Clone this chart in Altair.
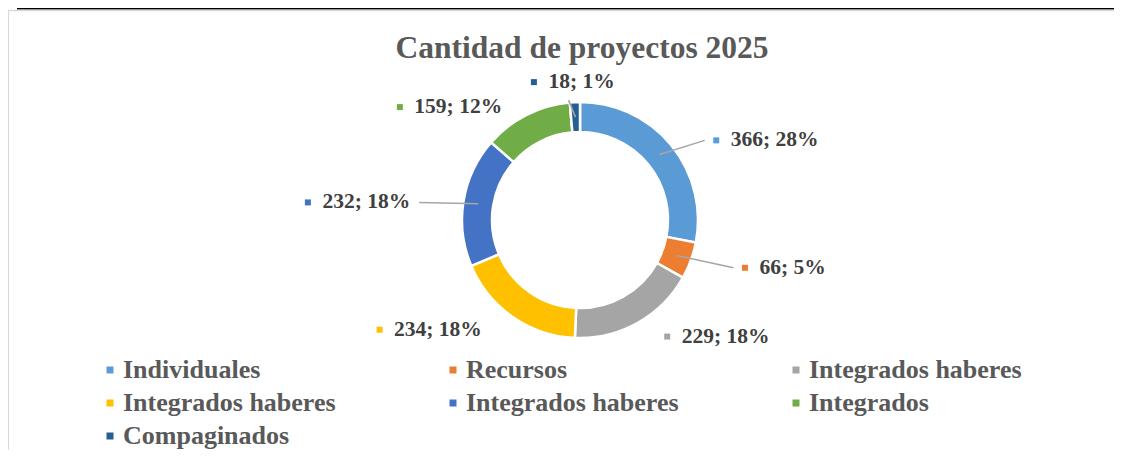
import json
import altair as alt
import pandas as pd

# ---- data ----
CATEGORIES = ["Individuales", "Recursos", "Integrados haberes", "Integrados haberes",
              "Integrados haberes", "Integrados", "Compaginados"]
VALUES = [366, 66, 229, 234, 232, 159, 18]
COLORS = ["#5B9BD5", "#ED7D31", "#A5A5A5", "#FFC000", "#4472C4", "#70AD47", "#255E91"]
TITLE = "Cantidad de proyectos 2025"

# ---- layout / style ----
W, H = 1106, 442
CX, CY = 572, 212
R_OUT, R_IN, R_LEAD = 118, 88, 103
EX, EY = 172, 130          # ellipse on which data labels are anchored
FONT = "Liberation Serif"
LFS = 21.5                 # data label font size
LEADER_IDX = [0, 1, 4, 6]  # labels that Excel connects with a leader line

df = pd.DataFrame({
    "idx": list(range(len(VALUES))),
    "key": [str(i) for i in range(len(VALUES))],
    "name": CATEGORIES,
    "value": VALUES,
})

color_scale = alt.Scale(domain=list(df["key"]), range=COLORS)
label_expr = json.dumps(CATEGORIES) + "[toNumber(datum.value)]"

base = alt.Chart(df)

arcs = base.mark_arc(innerRadius=R_IN, outerRadius=R_OUT, stroke="white", strokeWidth=2.5).encode(
    theta=alt.Theta("value:Q", stack=True),
    order=alt.Order("idx:Q"),
    color=alt.Color("key:N", scale=color_scale, legend=alt.Legend(
        title=None, orient="none", legendX=89, legendY=349, columns=3, direction="horizontal",
        columnPadding=104, rowPadding=7, padding=0,
        symbolType="square", symbolSize=49, symbolStrokeWidth=0, symbolOpacity=1,
        labelFont=FONT, labelFontSize=26, labelFontWeight="bold", labelColor="#595959",
        labelOffset=0, labelLimit=500, labelExpr=label_expr)),
    x=alt.value(CX), y=alt.value(CY),
)

calc = base.transform_joinaggregate(total="sum(value)").transform_window(
    cum="sum(value)", sort=[alt.SortField("idx")], frame=[None, 0]
).transform_calculate(
    mid="(datum.cum - datum.value / 2) / datum.total * 2 * PI",
).transform_calculate(
    pct="round(datum.value / datum.total * 100)",
    side="abs(sin(datum.mid)) < 0.15 ? 0 : (sin(datum.mid) > 0 ? 1 : -1)",
    ax=f"{CX} + {EX} * sin(datum.mid)",
    ay=f"{CY} - {EY} * cos(datum.mid)",
    lx1=f"{CX} + {R_LEAD} * sin(datum.mid)",
    ly1=f"{CY} - {R_LEAD} * cos(datum.mid)",
).transform_calculate(
    label="datum.value + '; ' + datum.pct + '%'",
    ty="datum.side == 0 ? datum.ay - 8 : datum.ay + 3",
).transform_calculate(
    tw=f"((length(datum.label) - 3) * 0.5 + 1.583) * {LFS}",
).transform_calculate(
    tx="datum.side == 1 ? datum.ax + 18 : (datum.side == -1 ? datum.ax - datum.tw : datum.ax - (datum.tw + 18) / 2 + 18)",
    lx2="datum.side == 1 ? datum.ax - 8 : (datum.side == -1 ? datum.ax + 9 : datum.ax - 4)",
    ly2="datum.side == 0 ? datum.ty + 18 : datum.ty",
).transform_calculate(
    sx="datum.tx - 14.5",
)

leaders = calc.transform_filter(
    f"indexof({json.dumps(LEADER_IDX)}, datum.idx) >= 0"
).mark_rule(color="#A6A6A6", strokeWidth=1.5).encode(
    x=alt.X("lx1:Q", scale=None, axis=None),
    y=alt.Y("ly1:Q", scale=None, axis=None),
    x2="lx2:Q", y2="ly2:Q",
)

squares = calc.mark_square(size=36, opacity=1).encode(
    x=alt.X("sx:Q", scale=None, axis=None),
    y=alt.Y("ty:Q", scale=None, axis=None),
    color=alt.Color("key:N", scale=color_scale, legend=None),
)

labels = calc.mark_text(align="left", baseline="middle", font=FONT, fontSize=LFS,
                        fontWeight="bold", color="#404040").encode(
    x=alt.X("tx:Q", scale=None, axis=None),
    y=alt.Y("ty:Q", scale=None, axis=None),
    text="label:N",
)

one = pd.DataFrame({"t": [TITLE]})
title = alt.Chart(one).mark_text(font=FONT, fontSize=31.5, fontWeight="bold", color="#595959",
                                 align="center", baseline="alphabetic").encode(
    text="t:N", x=alt.value(574), y=alt.value(50))

top_black = alt.Chart(one).mark_rule(color="#000000", strokeWidth=2).encode(
    x=alt.value(9), x2=alt.value(W), y=alt.value(0.5))
top_gray = alt.Chart(one).mark_rule(color="#D9D9D9", strokeWidth=1.5).encode(
    x=alt.value(0), x2=alt.value(W), y=alt.value(2.5))
left_gray = alt.Chart(one).mark_rule(color="#D9D9D9", strokeWidth=2).encode(
    x=alt.value(0), y=alt.value(2.5), y2=alt.value(H))

chart = alt.layer(
    top_black, top_gray, left_gray, title, arcs, leaders, squares, labels
).properties(
    width=W, height=H, padding=0, autosize=alt.AutoSizeParams(type="none"),
    background="white",
).configure_view(stroke=None)

chart.save("out.html", embed_options={"renderer": "svg", "actions": False})
